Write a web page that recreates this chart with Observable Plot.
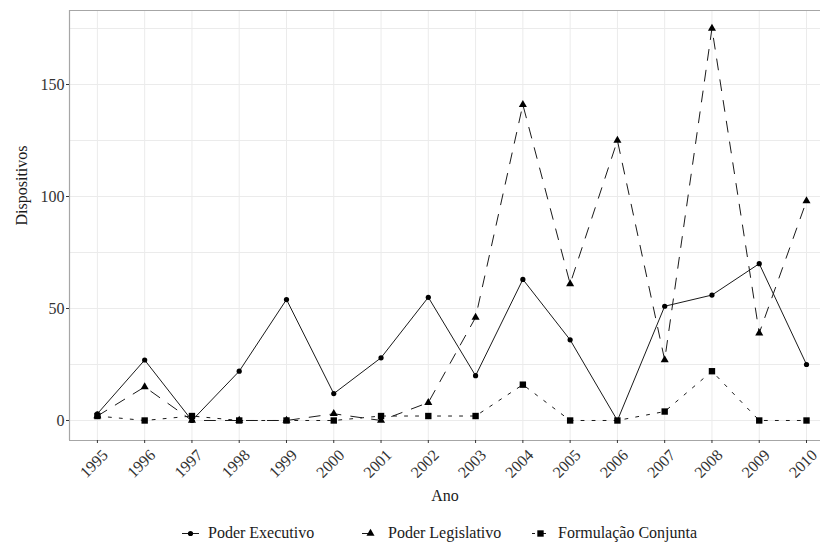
<!DOCTYPE html>
<html>
<head>
<meta charset="utf-8">
<script src="https://cdn.jsdelivr.net/npm/d3@7"></script>
<script src="https://cdn.jsdelivr.net/npm/@observablehq/plot@0.6"></script>
<style>
  body { margin: 0; background: #fff; font-family: "Liberation Serif", "Times New Roman", Times, serif; }
  #chart { width: 820px; }
  #chart svg, #chart svg text { font-family: "Liberation Serif", "Times New Roman", Times, serif !important; }
  .legend { position: relative; width: 820px; height: 34px; font-size: 16px; color: #1a1a1a; }
  .legend .item { position: absolute; top: 13px; height: 20px; line-height: 20px; display: flex; align-items: center; white-space: nowrap; }
  .legend svg { display: block; margin-right: 9px; }
</style>
</head>
<body>
<div id="chart"></div>
<script>
// Dispositivos por ano e origem, 1995–2010
const years = [1995, 1996, 1997, 1998, 1999, 2000, 2001, 2002, 2003, 2004, 2005, 2006, 2007, 2008, 2009, 2010];
const executivo   = [3, 27, 0, 22, 54, 12, 28, 55, 20, 63, 36, 0, 51, 56, 70, 25];
const legislativo = [2, 15, 0, 0, 0, 3, 0, 8, 46, 141, 61, 125, 27, 175, 39, 98];
const conjunta    = [2, 0, 2, 0, 0, 0, 2, 2, 2, 16, 0, 0, 4, 22, 0, 0];
const seriesNames = ["Poder Executivo", "Poder Legislativo", "Formulação Conjunta"];
const yTicks = [0, 50, 100, 150];
const yGrid = [0, 25, 50, 75, 100, 125, 150, 175];
const xTitle = "Ano";
const yTitle = "Dispositivos";

// Per-series drawing style
const styles = [
  {dash: null,    symbol: "circle",   r: 2.6},
  {dash: "11,10", symbol: "triangle", r: 3.0},
  {dash: "3,8",   symbol: "square",   r: 3.6}
];

const valuesBySeries = [executivo, legislativo, conjunta];
const rows = seriesNames.flatMap((serie, s) =>
  years.map((year, i) => ({year, value: valuesBySeries[s][i], serie}))
);

const xDomain = [1994.41, 2010.296];
const yDomain = [-8.93, 183.04];
const ink = "#1a1a1a";
const axisInk = "#333333";
const gridInk = "#ebebeb";

const lineMarks = seriesNames.map((serie, s) =>
  Plot.line(rows.filter(d => d.serie === serie), {
    x: "year", y: "value", stroke: ink, strokeWidth: 1,
    strokeDasharray: styles[s].dash ?? undefined
  })
);
const dotMarks = seriesNames.map((serie, s) =>
  Plot.dot(rows.filter(d => d.serie === serie), {
    x: "year", y: "value", symbol: () => styles[s].symbol, r: styles[s].r, fill: "#000", stroke: "none"
  })
);

const chart = Plot.plot({
  width: 820,
  height: 510,
  marginLeft: 69,
  marginRight: 0,
  marginTop: 10,
  marginBottom: 70,
  style: {fontFamily: "'Liberation Serif', 'Times New Roman', serif", fontSize: "15px", background: "#fff"},
  x: {domain: xDomain},
  y: {domain: yDomain},
  symbol: {type: "identity"},
  marks: [
    Plot.gridY(yGrid, {stroke: gridInk, strokeOpacity: 1, strokeWidth: 1}),
    Plot.gridX(years, {stroke: gridInk, strokeOpacity: 1, strokeWidth: 1}),
    Plot.ruleX([xDomain[0]], {stroke: "#a6a6a6", strokeWidth: 1.2}),
    Plot.ruleY([yDomain[0], yDomain[1]], {stroke: "#a6a6a6", strokeWidth: 1.2}),
    ...lineMarks,
    ...dotMarks,
    Plot.axisY(yTicks, {
      tickSize: 3, tickPadding: 2, fontSize: 16, stroke: axisInk, fill: axisInk, label: null
    }),
    // x tick marks
    Plot.axisX(years, {tickSize: 3, tickFormat: () => "", stroke: axisInk, label: null}),
    // x tick labels, rotated
    Plot.axisX(years, {
      tickFormat: d => String(d), tickRotate: -45, tickSize: 0, tickPadding: 5,
      fontSize: 16, fill: axisInk, label: null, dx: 8, dy: 7
    }),
    // axis titles
    Plot.text([yTitle], {frameAnchor: "left", text: d => d, rotate: -90, dx: -48, fontSize: 16, fill: ink}),
    Plot.text([xTitle], {frameAnchor: "bottom", text: d => d, dy: 60, fontSize: 16, fill: ink})
  ]
});
document.getElementById("chart").appendChild(chart);

// Legend below the plot
const legend = document.createElement("div");
legend.className = "legend";
const itemLeft = [182, 362, 532];
const symbolTypes = {circle: d3.symbolCircle, triangle: d3.symbolTriangle, square: d3.symbolSquare};
seriesNames.forEach((serie, s) => {
  const item = document.createElement("div");
  item.className = "item";
  item.style.left = itemLeft[s] + "px";
  const key = d3.create("svg").attr("width", 17).attr("height", 17);
  key.append("line").attr("x1", 0).attr("x2", 17).attr("y1", 8.5).attr("y2", 8.5)
    .attr("stroke", ink).attr("stroke-width", 1)
    .attr("stroke-dasharray", styles[s].dash);
  key.append("path")
    .attr("transform", "translate(8.5,8.5)")
    .attr("d", d3.symbol(symbolTypes[styles[s].symbol], Math.PI * styles[s].r * styles[s].r)())
    .attr("fill", "#000");
  item.appendChild(key.node());
  const label = document.createElement("span");
  label.textContent = serie;
  item.appendChild(label);
  legend.appendChild(item);
});
document.body.appendChild(legend);
</script>
</body>
</html>
